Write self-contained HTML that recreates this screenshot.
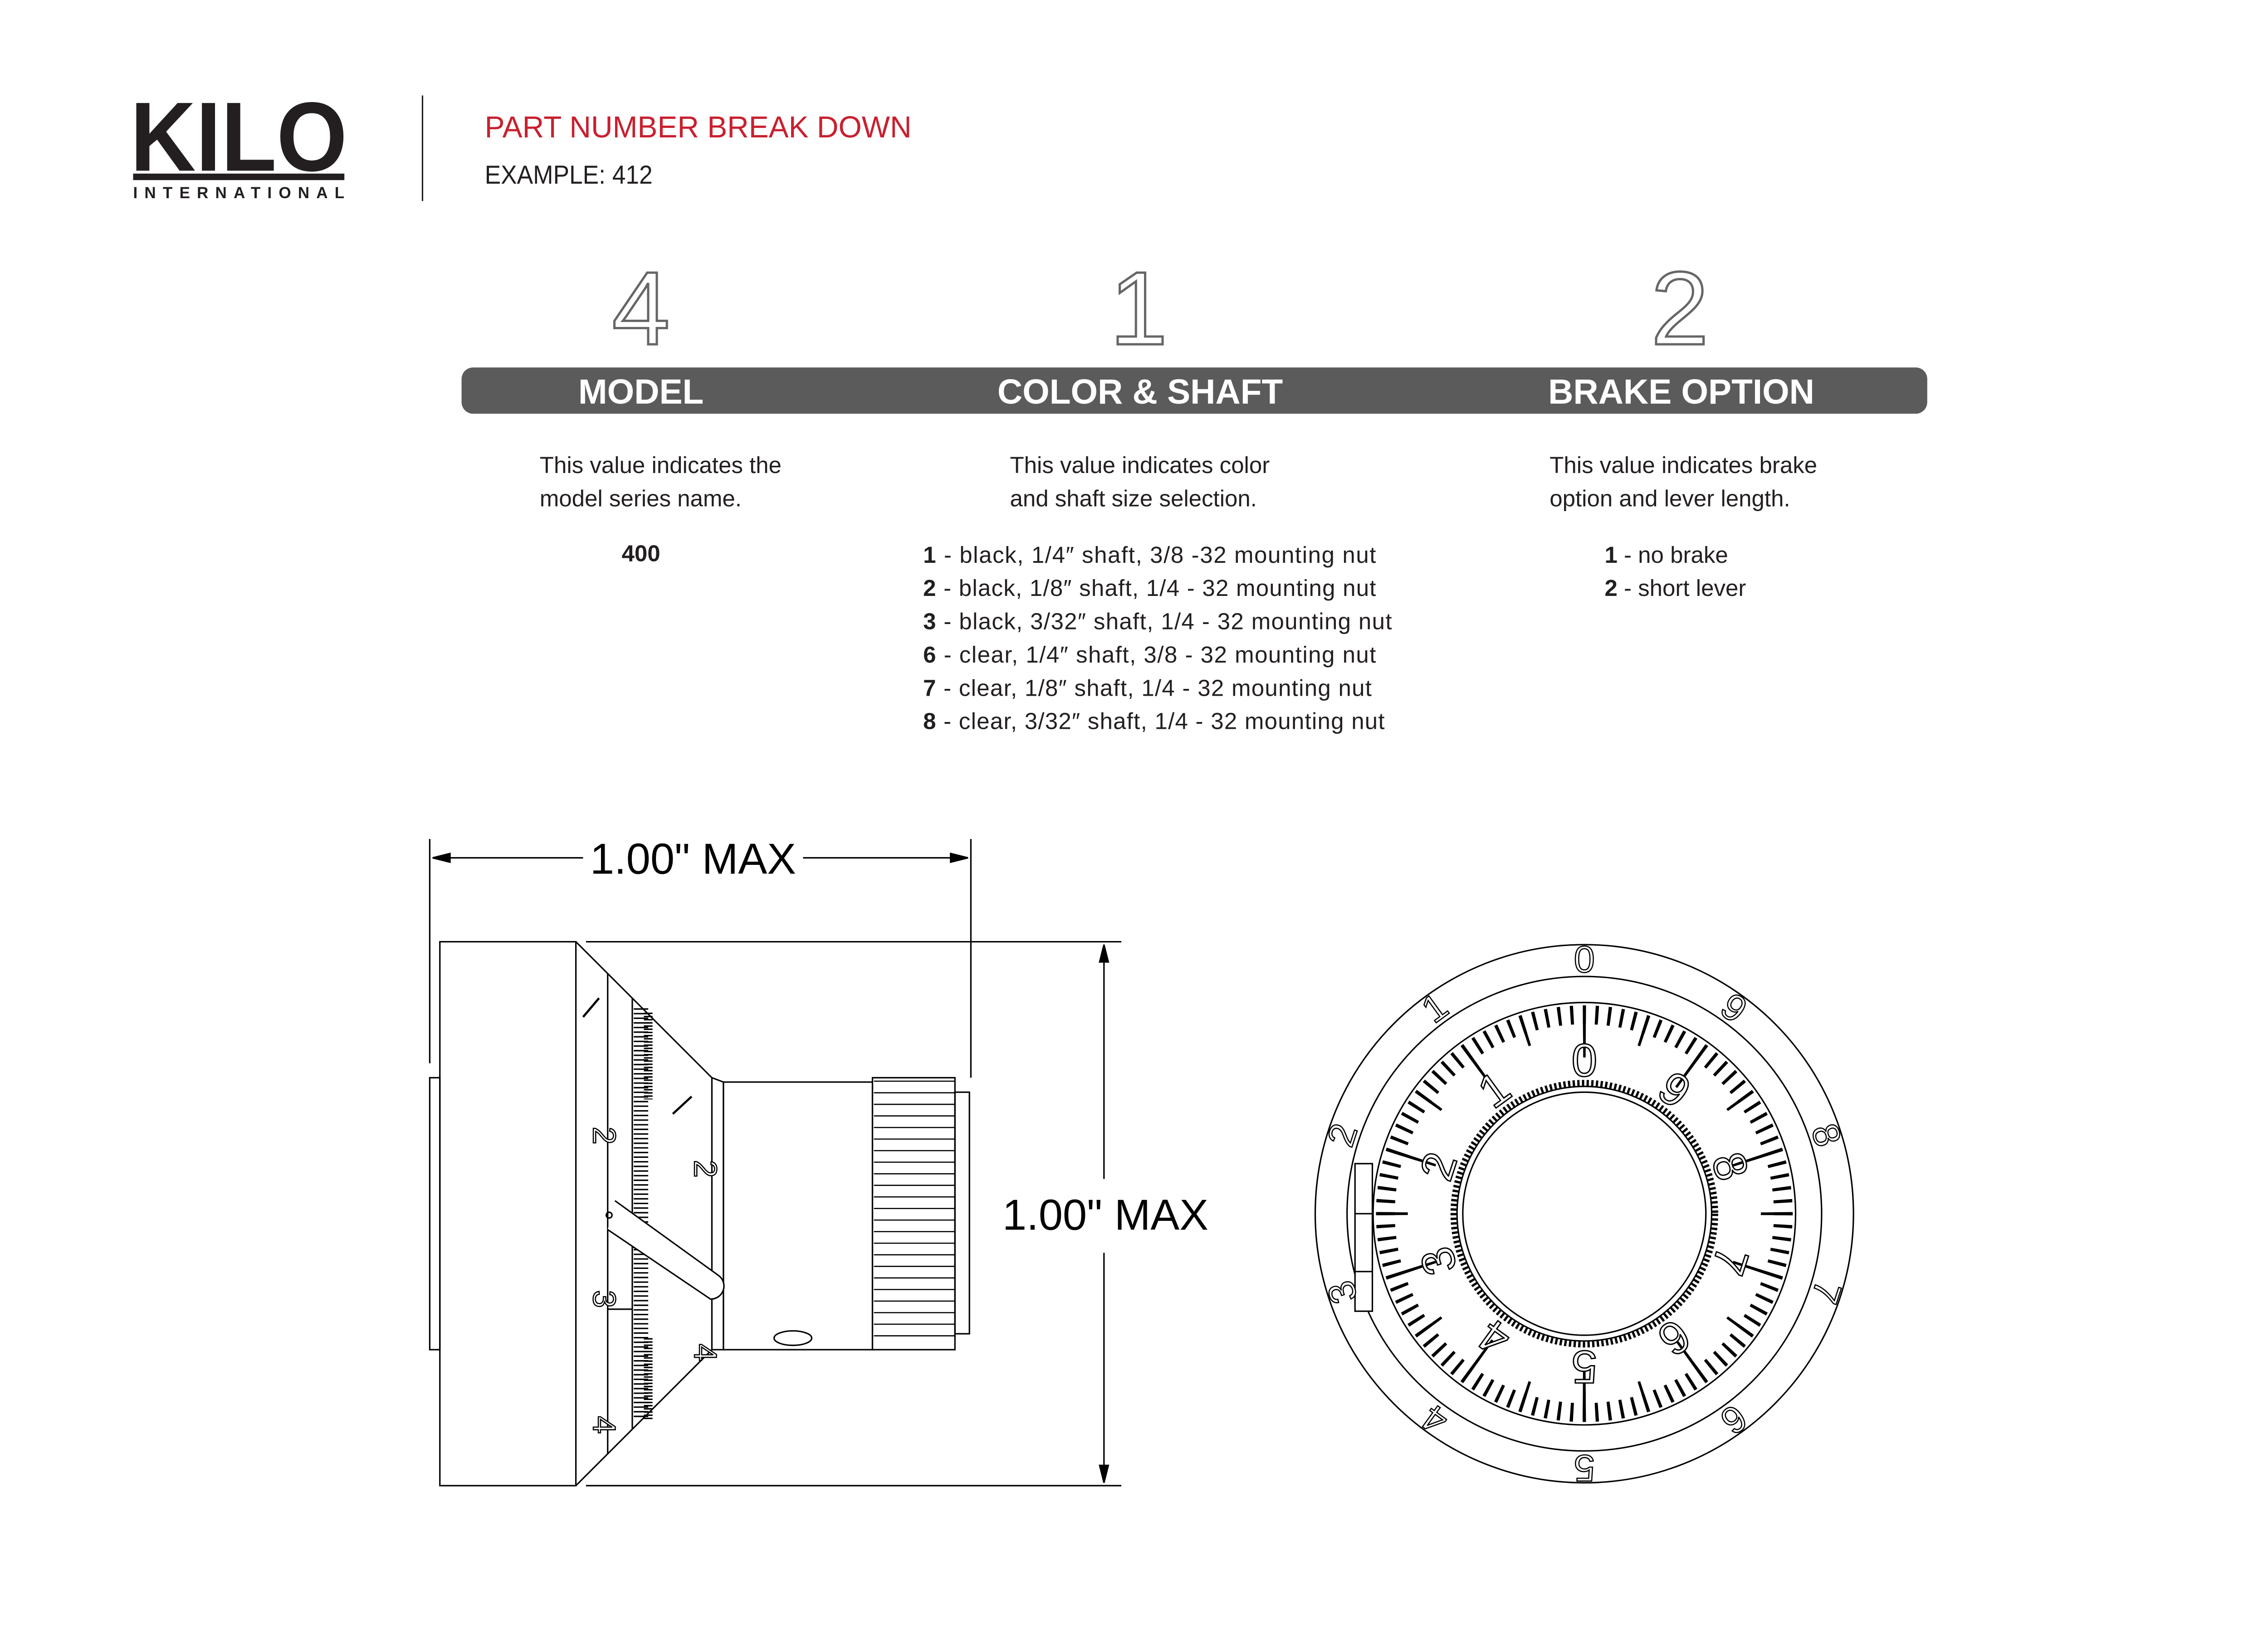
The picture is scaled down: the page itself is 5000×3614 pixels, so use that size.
<!DOCTYPE html>
<html><head><meta charset="utf-8"><style>
html,body{margin:0;padding:0;background:#fff}
svg{display:block}
text{font-family:"Liberation Sans",sans-serif}
</style></head><body>
<svg width="5000" height="3614" viewBox="0 0 1567.5 1133" xmlns="http://www.w3.org/2000/svg">
<rect width="1567.5" height="1133" fill="#fff"/>
<!-- logo -->
<text x="90" y="118" font-size="68" font-weight="bold" fill="#231f20" textLength="150" lengthAdjust="spacingAndGlyphs">KILO</text>
<rect x="92" y="120" width="146" height="4.5" fill="#231f20"/>
<text x="92" y="137" font-size="11" font-weight="bold" fill="#231f20" textLength="146" lengthAdjust="spacing">INTERNATIONAL</text>
<line x1="292" y1="66" x2="292" y2="139" stroke="#231f20" stroke-width="1"/>
<text x="335" y="95" font-size="21" fill="#c8202f" textLength="295" lengthAdjust="spacingAndGlyphs">PART NUMBER BREAK DOWN</text>
<text x="335" y="127" font-size="18" fill="#231f20" textLength="116" lengthAdjust="spacingAndGlyphs">EXAMPLE: 412</text>
<!-- big outline digits -->
<g font-size="72" fill="#fff" stroke="#666" stroke-width="1.6" text-anchor="middle">
<text x="443" y="238">4</text><text x="787" y="238">1</text><text x="1161" y="238">2</text>
</g>
<rect x="319" y="254" width="1013" height="32" rx="8" fill="#5b5b5b"/>
<g font-size="24" font-weight="bold" fill="#fff" text-anchor="middle">
<text x="443" y="279">MODEL</text><text x="788" y="279">COLOR &amp; SHAFT</text><text x="1162" y="279">BRAKE OPTION</text>
</g>
<g font-size="16" fill="#231f20">
<text x="373" y="327">This value indicates the</text>
<text x="373" y="350">model series name.</text>
<text x="443" y="388" text-anchor="middle" font-weight="bold">400</text>
<text x="698" y="327">This value indicates color</text>
<text x="698" y="350">and shaft size selection.</text>
<text x="638" y="389" textLength="313"><tspan font-weight="bold">1</tspan> - black, 1/4″ shaft, 3/8 -32 mounting nut</text>
<text x="638" y="412" textLength="313"><tspan font-weight="bold">2</tspan> - black, 1/8″ shaft, 1/4 - 32 mounting nut</text>
<text x="638" y="435" textLength="324"><tspan font-weight="bold">3</tspan> - black, 3/32″ shaft, 1/4 - 32 mounting nut</text>
<text x="638" y="458" textLength="313"><tspan font-weight="bold">6</tspan> - clear, 1/4″ shaft, 3/8 - 32 mounting nut</text>
<text x="638" y="481" textLength="310"><tspan font-weight="bold">7</tspan> - clear, 1/8″ shaft, 1/4 - 32 mounting nut</text>
<text x="638" y="504" textLength="319"><tspan font-weight="bold">8</tspan> - clear, 3/32″ shaft, 1/4 - 32 mounting nut</text>
<text x="1071" y="327">This value indicates brake</text>
<text x="1071" y="350">option and lever length.</text>
<text x="1109" y="389"><tspan font-weight="bold">1</tspan> - no brake</text>
<text x="1109" y="412"><tspan font-weight="bold">2</tspan> - short lever</text>
</g>
<!-- side view -->
<g stroke="#000" stroke-width="1" fill="none">
<line x1="297" y1="580" x2="297" y2="735"/>
<line x1="671" y1="580" x2="671" y2="745"/>
<line x1="299" y1="593" x2="403" y2="593"/><line x1="555" y1="593" x2="669" y2="593"/>
<path d="M299 593 l12 -3 v6z M669 593 l-12 -3 v6z" fill="#000"/>
<line x1="405" y1="651" x2="775" y2="651"/><line x1="405" y1="1027" x2="775" y2="1027"/>
<line x1="763" y1="653" x2="763" y2="815"/><line x1="763" y1="866" x2="763" y2="1025"/>
<path d="M763 653 l-3 12 h6z M763 1025 l-3 -12 h6z" fill="#000"/>
<rect x="297" y="745" width="7" height="188"/>
<rect x="304" y="651" width="94" height="376"/>
<path d="M398 651 L492 745 L492 933 L398 1027"/>
<line x1="420" y1="673" x2="420" y2="1005"/>
<line x1="437" y1="690" x2="437" y2="988"/>
<line x1="443" y1="697" x2="443" y2="980" stroke-width="10" stroke-dasharray="1 2.2"/>
<line x1="448" y1="700" x2="448" y2="760" stroke-width="6" stroke-dasharray="1 1.2"/>
<line x1="448" y1="925" x2="448" y2="982" stroke-width="6" stroke-dasharray="1 1.2"/>
<path d="M492 745 L500 748 L500 933 L492 933"/>
<rect x="500" y="748" width="103" height="185"/>
<rect x="603" y="745" width="57" height="188"/>
<line x1="632" y1="747" x2="632" y2="931" stroke-width="56" stroke-dasharray="0.8 7.2"/>
<rect x="660" y="755" width="10" height="167"/>
<ellipse cx="548" cy="925" rx="13" ry="5"/>
<path d="M425 830 L497 882 a9 9 0 0 1 -6 16 L420 850" fill="#fff"/>
<circle cx="421" cy="840" r="2"/>
<line x1="420" y1="905" x2="437" y2="905"/>
</g>
<g font-size="22" text-anchor="middle" fill="#fff" stroke="#000" stroke-width="0.8">
<text transform="translate(410,785) rotate(90)">2</text>
<text transform="translate(410,898) rotate(90)">3</text>
<text transform="translate(480,808) rotate(90)">2</text>
<text transform="translate(480,935) rotate(90)">4</text>
<text transform="translate(410,985) rotate(90)">4</text>
</g>
<g stroke="#000" stroke-width="1.5"><line x1="403" y1="703" x2="414" y2="690"/><line x1="465" y1="770" x2="478" y2="758"/></g>
<text x="479" y="604" font-size="30" text-anchor="middle" fill="#000">1.00" MAX</text>
<text x="764" y="850" font-size="30" text-anchor="middle" fill="#000">1.00" MAX</text>
<!-- front view -->
<g transform="translate(1095,839)" stroke="#000" fill="none" stroke-width="1">
<circle r="186"/><circle r="164"/><circle r="146"/>
<g transform="rotate(-90)">
<circle r="137.5" stroke-width="13" stroke-dasharray="2.2 6.439" stroke-dashoffset="1.1"/>
<circle r="133" stroke-width="22" stroke-dasharray="2 39.78" stroke-dashoffset="1"/>
<circle r="126" stroke-width="36" stroke-dasharray="2 77.17" stroke-dashoffset="1"/>
</g>
<circle r="90" stroke-width="5" stroke-dasharray="1.6 1.6"/>
<circle r="88"/><circle r="84"/>
<rect x="-158.5" y="-34.6" width="12" height="102" fill="#fff"/>
<line x1="-158.5" y1="0" x2="-146.5" y2="0"/><line x1="-158.5" y1="40" x2="-146.5" y2="40"/>
<g fill="#fff" stroke="#000" stroke-width="0.8" font-size="26" text-anchor="middle">
<text y="-167">0</text>
<text y="-167" transform="rotate(36)">9</text>
<text y="-167" transform="rotate(72)">8</text>
<text y="-167" transform="rotate(108)">7</text>
<text y="-167" transform="rotate(144)">6</text>
<text y="-167" transform="rotate(180)">5</text>
<text y="-167" transform="rotate(216)">4</text>
<text y="-167" transform="rotate(252)">3</text>
<text y="-167" transform="rotate(288)">2</text>
<text y="-167" transform="rotate(324)">1</text>
</g>
<g fill="#fff" stroke="#000" stroke-width="0.9" font-size="32" text-anchor="middle">
<text y="-95">0</text>
<text y="-95" transform="rotate(36)">9</text>
<text y="-95" transform="rotate(72)">8</text>
<text y="-95" transform="rotate(108)">7</text>
<text y="-95" transform="rotate(144)">6</text>
<text y="-95" transform="rotate(180)">5</text>
<text y="-95" transform="rotate(216)">4</text>
<text y="-95" transform="rotate(252)">3</text>
<text y="-95" transform="rotate(288)">2</text>
<text y="-95" transform="rotate(324)">1</text>
</g>
</g>
</svg>
</body></html>
